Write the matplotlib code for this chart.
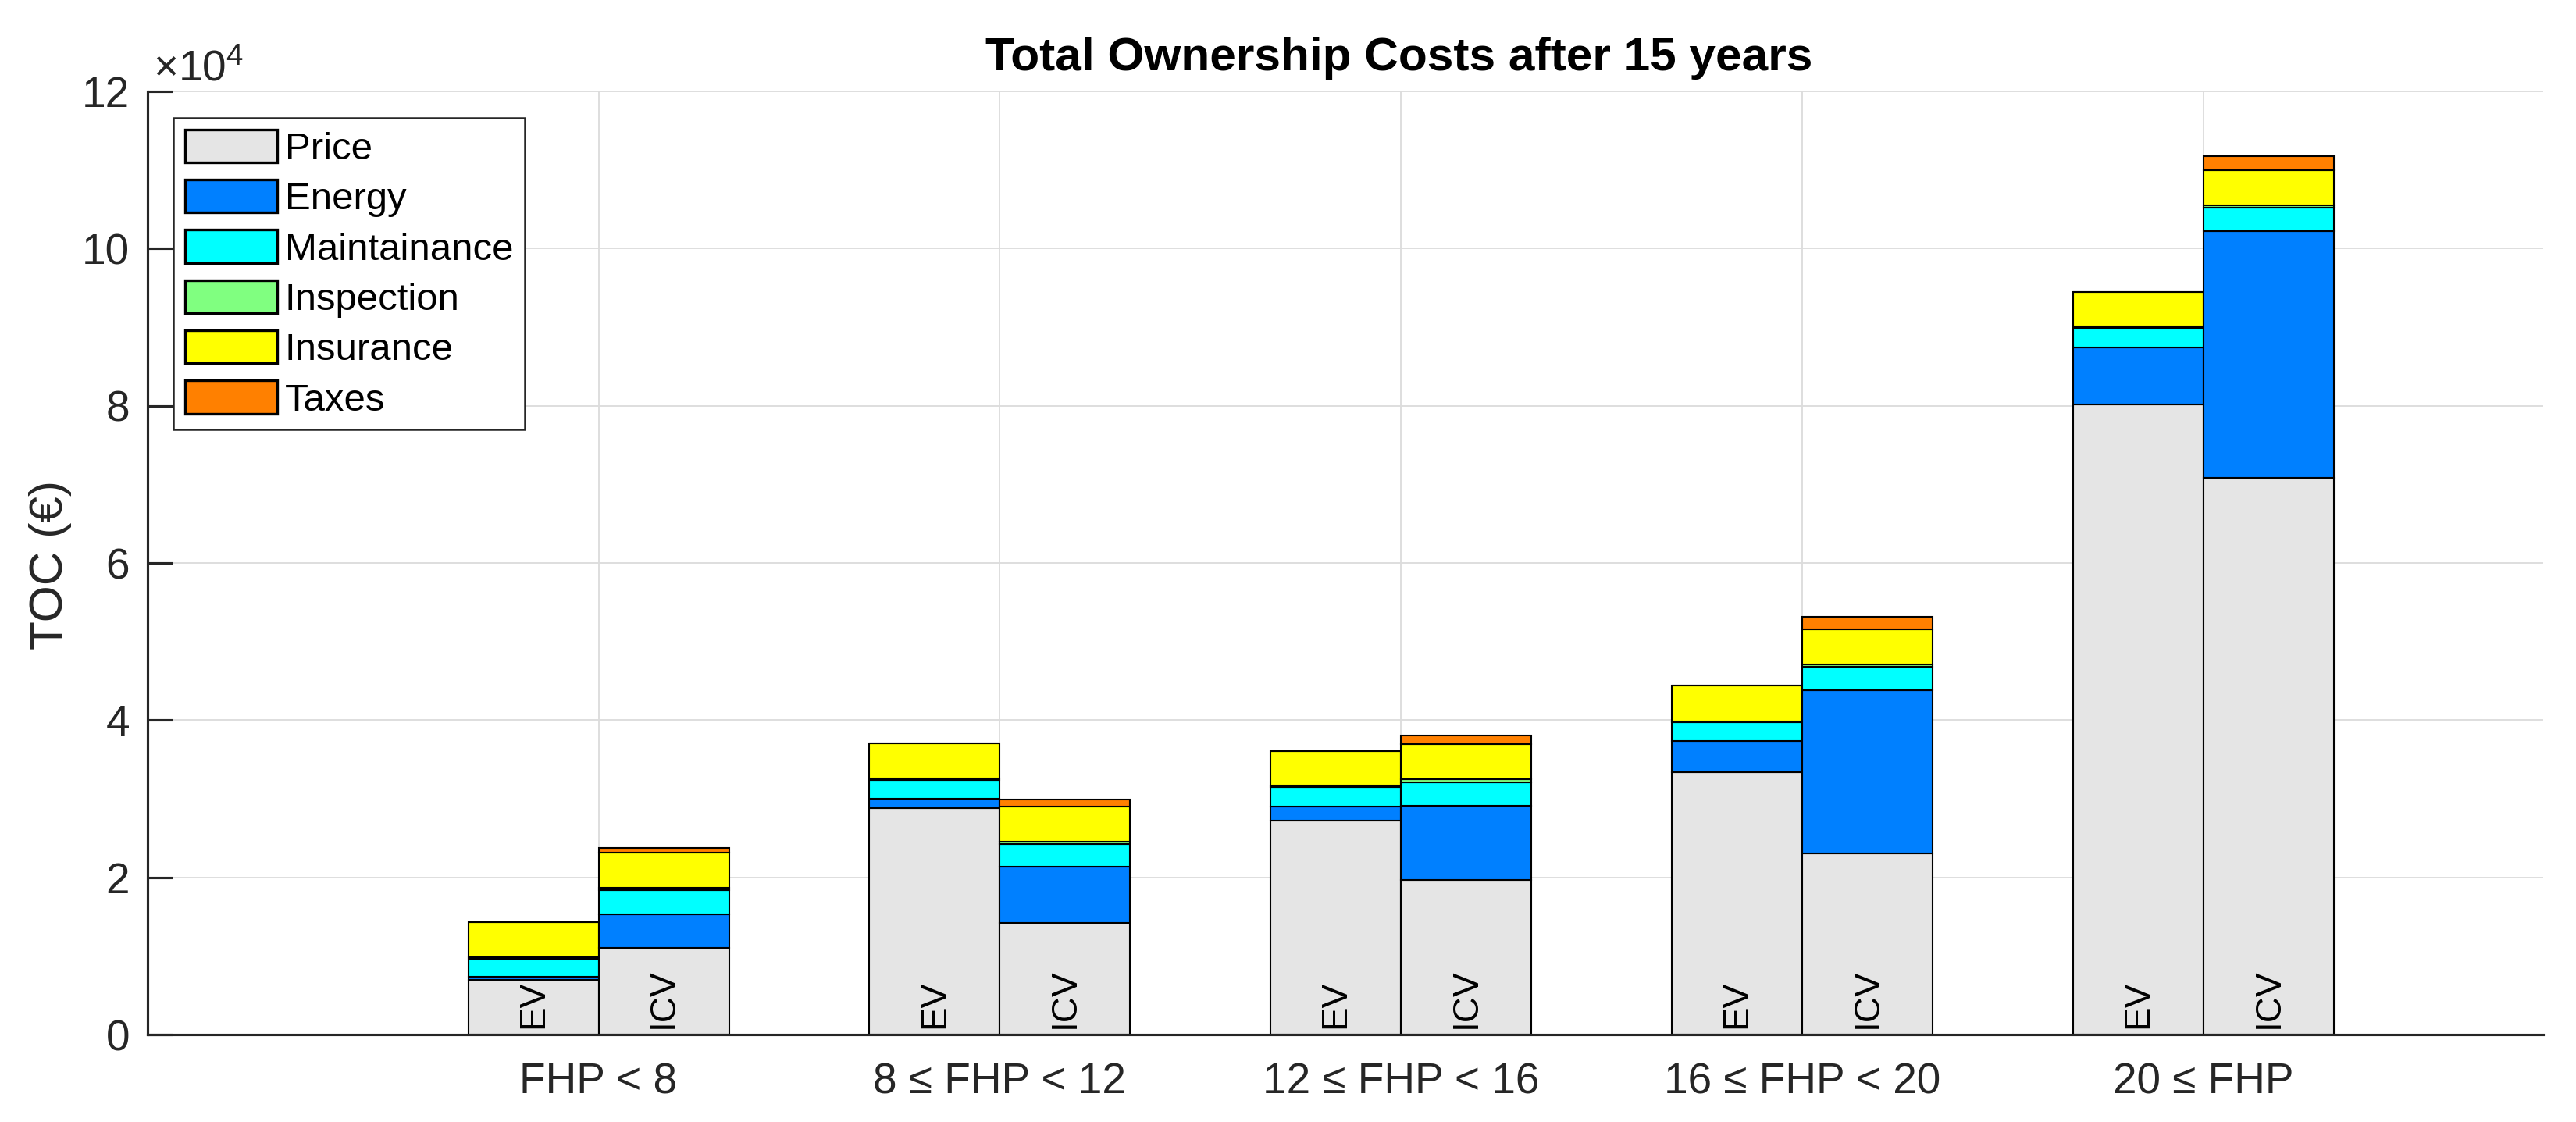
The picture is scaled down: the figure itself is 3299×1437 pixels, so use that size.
import matplotlib
matplotlib.use('Agg')
import matplotlib.pyplot as plt
from matplotlib.patches import Patch
import numpy as np

plt.rcParams['font.family'] = ['Liberation Sans', 'DejaVu Sans']
plt.rcParams['mathtext.fontset'] = 'custom'
plt.rcParams['mathtext.rm'] = 'Liberation Sans'
plt.rcParams['mathtext.it'] = 'Liberation Sans:italic'
plt.rcParams['mathtext.bf'] = 'Liberation Sans:bold'

# ---------------- data ----------------
categories = ['FHP < 8', '8 \u2264 FHP < 12', '12 \u2264 FHP < 16',
              '16 \u2264 FHP < 20', '20 \u2264 FHP']
vehicles = ['EV', 'ICV']
components = ['Price', 'Energy', 'Maintainance', 'Inspection', 'Insurance', 'Taxes']

ev_price       = [6950, 28810, 27250, 33380, 80180]
ev_energy      = [400, 1150, 1770, 4000, 7200]
ev_maintenance = [2290, 2400, 2510, 2350, 2550]
ev_inspection  = [200, 200, 170, 120, 150]
ev_insurance   = [4470, 4450, 4360, 4530, 4400]
ev_taxes       = [0, 0, 0, 0, 0]

icv_price       = [11000, 14230, 19670, 23090, 70840]
icv_energy      = [4300, 7090, 9470, 20750, 31390]
icv_maintenance = [3050, 2880, 2930, 2970, 3000]
icv_inspection  = [290, 370, 370, 250, 270]
icv_insurance   = [4490, 4450, 4530, 4530, 4480]
icv_taxes       = [620, 900, 1110, 1520, 1810]

yticks = [0, 20000, 40000, 60000, 80000, 100000, 120000]
ytick_labels = ['0', '2', '4', '6', '8', '10', '12']

colors = ['#e5e5e5', '#0080ff', '#00ffff', '#80ff80', '#ffff00', '#ff8000']
dark = '#262626'

# ---------------- figure ----------------
W, H, DPI = 3299, 1437, 300
fig = plt.figure(figsize=(W / DPI, H / DPI), dpi=DPI)
ax = fig.add_axes([189 / W, 1 - 1325 / H, (3257 - 189) / W, (1325 - 117) / H])

ev_stack = [ev_price, ev_energy, ev_maintenance, ev_inspection, ev_insurance, ev_taxes]
icv_stack = [icv_price, icv_energy, icv_maintenance, icv_inspection, icv_insurance, icv_taxes]

x = np.arange(1, len(categories) + 1)
w = 0.325
for offset, stack in [(-w / 2, ev_stack), (w / 2, icv_stack)]:
    bottom = np.zeros(len(categories))
    for vals, col in zip(stack, colors):
        vals = np.array(vals, dtype=float)
        ax.bar(x + offset, vals, w, bottom=bottom, color=col,
               edgecolor='black', linewidth=0.5, zorder=2)
        bottom += vals

# EV / ICV labels inside bars
for i in range(len(categories)):
    ax.text(x[i] - w / 2, 800, vehicles[0], rotation=90, ha='center', va='bottom',
            fontsize=11, color='black', zorder=5)
    ax.text(x[i] + w / 2, 800, vehicles[1], rotation=90, ha='center', va='bottom',
            fontsize=11, color='black', zorder=5)

ax.set_xlim(-0.124, 5.847)
ax.set_ylim(0, 120000)
ax.set_xticks(x)
ax.set_xticklabels(categories)
ax.set_yticks(yticks)
ax.set_yticklabels(ytick_labels)

ax.set_axisbelow(True)
ax.grid(True, color='#dcdcdc', linewidth=0.45)
for s in ['top', 'right']:
    ax.spines[s].set_visible(False)
for s in ['left', 'bottom']:
    ax.spines[s].set_color(dark)
    ax.spines[s].set_linewidth(0.75)
ax.tick_params(axis='y', direction='in', length=7.6, width=0.75, color=dark,
               labelcolor=dark, labelsize=13.2, pad=5.5)
ax.tick_params(axis='x', direction='in', length=0, labelcolor=dark,
               labelsize=13.2, pad=8.5)

# exponent label
fig.text(196 / W, 1 - 103 / H, r'$\times\mathregular{10^{4}}$', ha='left',
         va='baseline', fontsize=13.2, color=dark)

# title and y label
fig.text(1792 / W, 1 - 90 / H, 'Total Ownership Costs after 15 years',
         ha='center', va='baseline', fontsize=14.5, fontweight='bold', color='black')
fig.text(65 / W, 1 - 723 / H, 'TOC (\u20ac)', rotation=90, ha='center',
         va='center', fontsize=14.5, color=dark)

# legend
handles = [Patch(facecolor=c, edgecolor='black', linewidth=0.8) for c in colors]
leg = fig.legend(handles, components, loc='upper left',
                 bbox_to_anchor=(222 / W, 1 - 151 / H), fontsize=11.8,
                 frameon=True, fancybox=False, borderaxespad=0,
                 handlelength=2.4, handleheight=0.95, handletextpad=0.2,
                 labelspacing=0.33, borderpad=0.3)
leg.get_frame().set_edgecolor(dark)
leg.get_frame().set_linewidth(0.6)
leg.get_frame().set_alpha(1)

fig.savefig('out.png', dpi=DPI)
